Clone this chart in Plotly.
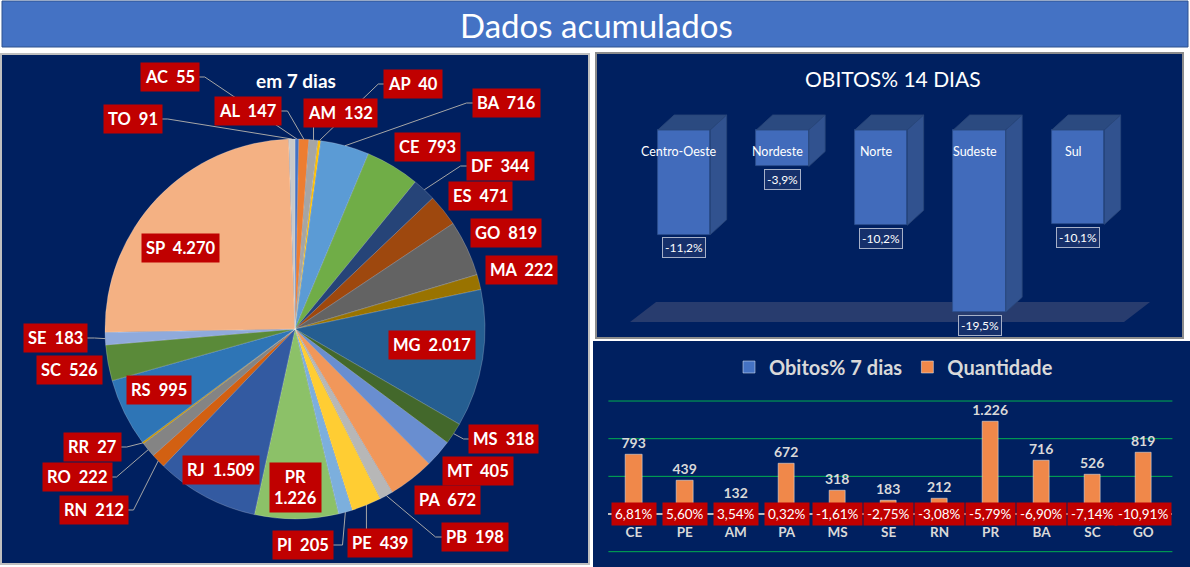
import math

import plotly.graph_objects as go

W, H = 1190, 567

# Left panel: accumulated deaths in 7 days, by state (clockwise from 12 o'clock)
states = ["AC", "AL", "AM", "AP", "BA", "CE", "DF", "ES", "GO", "MA", "MG", "MS", "MT", "PA",
          "PB", "PE", "PI", "PR", "RJ", "RN", "RO", "RR", "RS", "SC", "SE", "SP", "TO"]
deaths_7d = [55, 147, 132, 40, 716, 793, 344, 471, 819, 222, 2017, 318, 405, 672,
             198, 439, 205, 1226, 1509, 212, 222, 27, 995, 526, 183, 4270, 91]

# Top right: deaths % over 14 days, by region
regions = ["Centro-Oeste", "Nordeste", "Norte", "Sudeste", "Sul"]
deaths_pct_14d = [-11.2, -3.9, -10.2, -19.5, -10.1]

# Bottom right: deaths % over 7 days and quantity, selected states
bar_states = ["CE", "PE", "AM", "PA", "MS", "SE", "RN", "PR", "BA", "SC", "GO"]
deaths_pct_7d = [6.81, 5.60, 3.54, 0.32, -1.61, -2.75, -3.08, -5.79, -6.90, -7.14, -10.91]
quantity = [793, 439, 132, 672, 318, 183, 212, 1226, 716, 526, 819]
quantity_grid = [-500, 500, 1000, 1500]

# Excel-like slice palette
slice_colors = [
    "#4472C4", "#ED7D31", "#A5A5A5", "#FFC000", "#5B9BD5", "#70AD47",
    "#264478", "#9E480E", "#636363", "#997300", "#255E91", "#43682B",
    "#698ED0", "#F1975A", "#B7B7B7", "#FFCD33", "#7CAFDD", "#8CC168",
    "#335AA1", "#D26012", "#848484", "#CC9A00", "#2E75B6", "#5A8A39",
    "#8FAADC", "#F4B183", "#C9C9C9",
]

# label box centres (pixels) and which labels get a leader line
label_xy = {
    "AC": (170, 77), "TO": (133, 119), "AL": (248, 111), "AM": (340, 113), "AP": (413, 84),
    "BA": (506, 103), "CE": (427, 147), "DF": (500, 166), "ES": (480, 196), "GO": (506, 233),
    "MA": (521, 270), "MG": (432, 345), "MS": (503, 439), "MT": (478, 471), "PA": (447, 500),
    "PB": (475, 537), "PE": (380, 543), "PI": (303, 545), "PR": (295, 487), "RJ": (221, 470),
    "RN": (94, 510), "RO": (77, 477), "RR": (92, 447), "RS": (159, 390), "SC": (69, 370),
    "SE": (55, 338), "SP": (180, 248),
}
leaders = {"AC", "TO", "AL", "AM", "AP", "BA", "DF", "MS", "PB", "PE", "PI", "RN", "RO", "RR", "SE"}

NAVY = "#002060"
RED = "#C00000"
FONT = "Lato"


def px(x):
    return x / W


def py(y):
    return 1 - y / H


def br_int(n):
    return f"{n:,}".replace(",", ".")


def br_pct(v, d):
    return f"{v:.{d}f}%".replace(".", ",")


def label(**kw):
    base = dict(showarrow=False, xanchor="center", yanchor="middle")
    base.update(kw)
    return base


fig = go.Figure()
shapes = []
annotations = []

# background panels
shapes.append(dict(type="rect", xref="paper", yref="paper", x0=px(2), x1=px(1188), y0=py(47), y1=py(1),
                   fillcolor="#4472C4", line=dict(color="#2F528F", width=1), layer="below"))
shapes.append(dict(type="rect", xref="paper", yref="paper", x0=px(1), x1=px(589), y0=py(564), y1=py(54),
                   fillcolor=NAVY, line=dict(color="#BFBFBF", width=2), layer="below"))
shapes.append(dict(type="rect", xref="paper", yref="paper", x0=px(596), x1=px(1183), y0=py(338), y1=py(53),
                   fillcolor=NAVY, line=dict(color="#8C8C8C", width=2), layer="below"))
shapes.append(dict(type="rect", xref="paper", yref="paper", x0=px(593), x1=px(1190), y0=py(567), y1=py(341),
                   fillcolor=NAVY, line=dict(width=0), layer="below"))

annotations.append(label(xref="paper", yref="paper", x=px(596), y=py(25), text="Dados acumulados",
                         font=dict(family=FONT, size=33, color="white")))

# ---------------- pie ----------------
CX, CY, R = 295, 329, 190
fig.add_trace(go.Pie(
    labels=states, values=deaths_7d, sort=False, direction="clockwise", rotation=0,
    marker=dict(colors=slice_colors, line=dict(color="rgba(255,255,255,0.35)", width=0.6)),
    textinfo="none", hoverinfo="label+value", showlegend=False,
    domain=dict(x=[px(CX - R), px(CX + R)], y=[py(CY + R), py(CY - R)]),
))

annotations.append(label(xref="paper", yref="paper", x=px(296), y=py(80), text="em 7 dias",
                         font=dict(family=FONT, size=19, color="white", weight="bold")))

total = sum(deaths_7d)
cum = 0
for st, v in zip(states, deaths_7d):
    theta = 2 * math.pi * (cum + v / 2) / total
    cum += v
    lx, ly = label_xy[st]
    text = f"{st} {br_int(v)}"
    if st == "PR":
        shown = f"{st}<br>{br_int(v)}"
    else:
        shown = f"{st}  {br_int(v)}"
    annotations.append(label(xref="paper", yref="paper", x=px(lx), y=py(ly), text=shown,
                             bgcolor=RED, borderpad=4,
                             font=dict(family=FONT, size=16.5, color="white", weight="bold")))
    if st in leaders:
        ex, ey = CX + R * math.sin(theta), CY - R * math.cos(theta)
        hw = 0.5 * (len(text) * 9.5 + 10)
        if lx - hw <= ex <= lx + hw:
            pts = [(ex, ly), (ex, ey)]
        else:
            side = 1 if ex > lx else -1
            pts = [(lx, ly), (lx + side * (hw + 6), ly), (ex, ey)]
        path = "M " + " L ".join(f"{px(a):.5f},{py(b):.5f}" for a, b in pts)
        shapes.append(dict(type="path", xref="paper", yref="paper", path=path,
                           line=dict(color="#A6A6A6", width=1), layer="below"))

# ---------------- top right: 3D-like columns ----------------
BAR_W = 0.533
DX = 0.1665   # depth offset in category units
DV = 1.604    # depth offset in value units
xi = list(range(len(regions)))

fig.add_trace(go.Bar(
    x=xi, y=deaths_pct_14d, width=BAR_W, xaxis="x", yaxis="y", showlegend=False, hoverinfo="skip",
    marker=dict(color="#416BBB", line=dict(color="#2F528F", width=0.8)),
))

top_x, top_y, side_x, side_y = [], [], [], []
for i, v in zip(xi, deaths_pct_14d):
    l, r = i - BAR_W / 2, i + BAR_W / 2
    top_x += [l, r, r + DX, l + DX, l, None]
    top_y += [0, 0, DV, DV, 0, None]
    side_x += [r, r + DX, r + DX, r, r, None]
    side_y += [0, DV, v + DV, v, 0, None]

fig.add_trace(go.Scatter(x=top_x, y=top_y, xaxis="x", yaxis="y", mode="lines", fill="toself",
                         fillcolor="#2B4A80", line=dict(color="#2A4678", width=0.8),
                         showlegend=False, hoverinfo="skip"))
fig.add_trace(go.Scatter(x=side_x, y=side_y, xaxis="x", yaxis="y", mode="lines", fill="toself",
                         fillcolor="#31528F", line=dict(color="#2A4678", width=0.8),
                         showlegend=False, hoverinfo="skip"))

# floor of the 3D chart
FLOOR_V, FLOOR_L, FLOOR_R, FLOOR_DX, FLOOR_DV = -20.53, -0.548, 4.467, 0.264, 2.13
shapes.append(dict(
    type="path", xref="x", yref="y", layer="below", fillcolor="#283C6E", line=dict(width=0),
    path=(f"M {FLOOR_L},{FLOOR_V} L {FLOOR_R},{FLOOR_V} L {FLOOR_R + FLOOR_DX},{FLOOR_V + FLOOR_DV} "
          f"L {FLOOR_L + FLOOR_DX},{FLOOR_V + FLOOR_DV} Z"),
))

for i, name, v in zip(xi, regions, deaths_pct_14d):
    annotations.append(label(xref="x", yref="y", x=i - 0.05, y=-2.25, text=name,
                             font=dict(family=FONT, size=12.5, color="white")))
    annotations.append(label(xref="x", yref="y", x=i, y=v - 1.39, text=br_pct(v, 1),
                             bgcolor="#16306B", bordercolor="#A6B0C8", borderwidth=1, borderpad=2,
                             font=dict(family=FONT, size=12, color="white")))

annotations.append(label(xref="paper", yref="paper", x=px(893), y=py(78), text="OBITOS% 14 DIAS",
                         font=dict(family=FONT, size=21, color="white")))

# ---------------- bottom right: combo bars ----------------
for g in quantity_grid:
    shapes.append(dict(type="line", xref="x2 domain", yref="y2", x0=0, x1=1, y0=g, y1=g,
                       line=dict(color="#00B050", width=1), layer="below"))

fig.add_trace(go.Bar(
    x=bar_states, y=[p / 100 for p in deaths_pct_7d], name="Obitos% 7 dias", width=0.32,
    xaxis="x2", yaxis="y2", marker=dict(color="#4472C4"), hoverinfo="skip",
))
fig.add_trace(go.Bar(
    x=bar_states, y=quantity, name="Quantidade", width=0.32, xaxis="x2", yaxis="y2",
    marker=dict(color="#F0884A"), text=[br_int(q) for q in quantity], textposition="outside",
    constraintext="none", textfont=dict(family=FONT, size=14, color="#D9D9D9", weight="bold"),
    cliponaxis=False,
))

for st, p in zip(bar_states, deaths_pct_7d):
    annotations.append(label(xref="x2", yref="y2", x=st, y=0, text=br_pct(p, 2),
                             bgcolor=RED, borderpad=3, font=dict(family=FONT, size=13.5, color="white")))

fig.update_layout(
    width=W, height=H, margin=dict(l=0, r=0, t=0, b=0),
    paper_bgcolor="white", plot_bgcolor="rgba(0,0,0,0)",
    barmode="overlay", bargap=0,
    shapes=shapes, annotations=annotations,
    showlegend=True,
    legend=dict(orientation="h", x=px(893.5), y=py(367), xanchor="center", yanchor="middle",
                bgcolor="rgba(0,0,0,0)", font=dict(family=FONT, size=20, color="#D9D9D9", weight="bold")),
    xaxis=dict(domain=[px(600), px(1178)], range=[-0.853, 5.015], visible=False),
    yaxis=dict(domain=[py(335), py(58)], range=[-21.93, 7.70], visible=False),
    xaxis2=dict(domain=[px(608.4), px(1172.4)], type="category", anchor="free", position=py(514),
                showline=True, linecolor="#BFBFBF", linewidth=1.5, showgrid=False,
                ticks="outside", ticklen=6, tickcolor="rgba(0,0,0,0)",
                tickfont=dict(family=FONT, size=13.5, color="#D9D9D9", weight="bold")),
    yaxis2=dict(domain=[py(556.2), py(396.5)], range=[-560, 1560], anchor="x2",
                showticklabels=False, zeroline=False, showgrid=False, ticks=""),
)

# drop the default body margin so the figure sits at the top-left of the page
fig.write_html("out.html", config={"displayModeBar": False},
               post_script="document.body.style.margin = '0';")
